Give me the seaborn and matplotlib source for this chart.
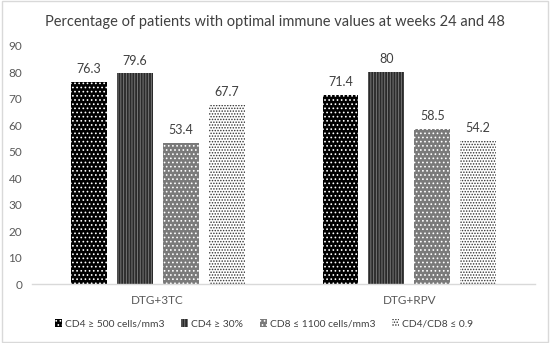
import matplotlib
matplotlib.use("Agg")
import matplotlib.pyplot as plt
import seaborn as sns
import pandas as pd
from matplotlib.patches import Rectangle

groups = ["DTG+3TC", "DTG+RPV"]
measures = ["CD4 ≥ 500 cells/mm3", "CD4 ≥ 30%", "CD8 ≤ 1100 cells/mm3", "CD4/CD8 ≤ 0.9"]
vals_3tc = [76.3, 79.6, 53.4, 67.7]
vals_rpv = [71.4, 80, 58.5, 54.2]
labels_3tc = ["76.3", "79.6", "53.4", "67.7"]
labels_rpv = ["71.4", "80", "58.5", "54.2"]

rows = []
for m, v in zip(measures, vals_3tc):
    rows.append({"group": groups[0], "measure": m, "value": v})
for m, v in zip(measures, vals_rpv):
    rows.append({"group": groups[1], "measure": m, "value": v})
df = pd.DataFrame(rows)

sns.set_theme(style="white")
plt.rcParams["font.family"] = ["Lato", "DejaVu Sans"]
plt.rcParams["hatch.linewidth"] = 0.7

fig = plt.figure(figsize=(5.5, 3.43), dpi=100)
ax = fig.add_axes([0.058, 0.172, 0.915, 0.694])

faces = ["#000000", "#2a2a2a", "#7a7a7a", "#ffffff"]
hatch_cols = ["#ffffff", "#777777", "#ffffff", "#333333"]
hatches = ["....", "||||||", "....", "......"]

sns.barplot(data=df, x="group", y="value", hue="measure", order=groups,
            hue_order=measures, width=0.73, gap=0.22, ax=ax, legend=False,
            saturation=1)

text_lab = [[labels_3tc[i], labels_rpv[i]] for i in range(4)]
for i, cont in enumerate(ax.containers):
    for p in cont.patches:
        p.set_facecolor(faces[i])
        p.set_edgecolor(hatch_cols[i])
        p.set_hatch(hatches[i])
        p.set_linewidth(0)
    ax.bar_label(cont, labels=text_lab[i], padding=5, fontsize=9, color="#404040")

ax.set_ylim(0, 90)
ax.set_yticks(range(0, 91, 10))
ax.set_xlim(-0.5, 1.5)
ax.set_xlabel("")
ax.set_ylabel("")
ax.tick_params(axis="both", length=0, labelsize=8.5, colors="#595959")
ax.tick_params(axis="x", pad=8)
ax.tick_params(axis="y", pad=7)
for s in ["left", "right", "top"]:
    ax.spines[s].set_visible(False)
ax.spines["bottom"].set_color("#d9d9d9")
ax.spines["bottom"].set_linewidth(1)

fig.suptitle("Percentage of patients with optimal immune values at weeks 24 and 48",
             y=0.955, fontsize=10.5, color="#404040")

handles = []
for i in range(4):
    handles.append(Rectangle((0, 0), 1, 1, facecolor=faces[i], edgecolor=hatch_cols[i],
                             hatch=hatches[i], linewidth=0))
fig.legend(handles, measures, loc="center", bbox_to_anchor=(0.48, 0.055), ncol=4,
           frameon=False, fontsize=7.4, handlelength=0.7, handleheight=0.8,
           handletextpad=0.3, columnspacing=1.6, labelcolor="#404040")

fig.add_artist(Rectangle((0.003, 0.004), 0.994, 0.992, transform=fig.transFigure,
                         fill=False, edgecolor="#d9d9d9", linewidth=1))

fig.savefig("out.png", dpi=100)
